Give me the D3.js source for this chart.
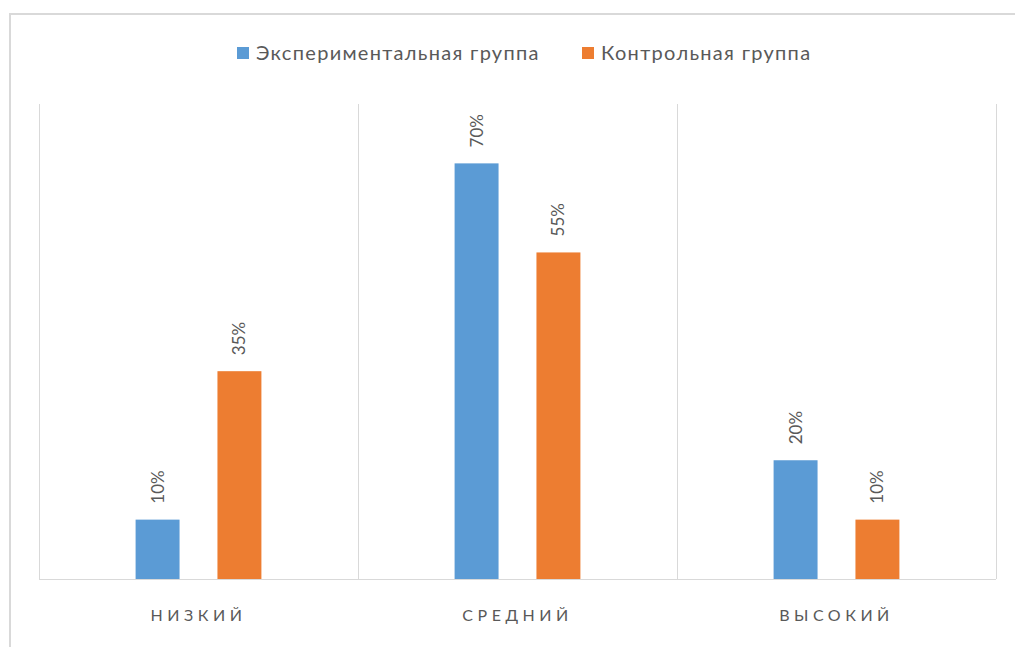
<!DOCTYPE html>
<html>
<head>
<meta charset="utf-8">
<script src="https://cdn.jsdelivr.net/npm/d3@7"></script>
<style>
  body { margin: 0; background: #fff; }
  svg { display: block; }
</style>
</head>
<body>
<svg id="chart" width="1015" height="647"></svg>
<script>
var categories = ['НИЗКИЙ', 'СРЕДНИЙ', 'ВЫСОКИЙ'];
var seriesNames = ['Экспериментальная группа', 'Контрольная группа'];
var expValues = [0.10, 0.70, 0.20];
var ctrlValues = [0.35, 0.55, 0.10];
var colors = ['#5b9bd5', '#ed7d31'];

function drawChart() {
    var svg = d3.select('#chart');
    var font = 'Lato, "Open Sans", sans-serif';
    var textGray = '#595959';

    // outer chart frame (cropped at right and bottom)
    svg.append('rect')
        .attr('x', 10)
        .attr('y', 14)
        .attr('width', 1030)
        .attr('height', 660)
        .attr('fill', 'none')
        .attr('stroke', '#d9d9d9')
        .attr('stroke-width', 2);

    var left = 39, right = 996, top = 104, bottom = 579;

    var x = d3.scaleBand()
        .domain(categories)
        .range([left, right])
        .paddingInner(0)
        .paddingOuter(0);

    var y = d3.scaleLinear()
        .domain([0, 0.8])
        .range([bottom, top]);

    var x1 = d3.scaleBand()
        .domain([0, 1])
        .range([0, x.bandwidth()])
        .paddingInner(0.463)
        .paddingOuter(1.18);

    // category separators
    var seps = [left].concat(categories.map(function (c) { return x(c) + x.bandwidth(); }));
    svg.selectAll('.sep')
        .data(seps)
        .enter().append('line')
        .attr('class', 'sep')
        .attr('x1', function (d) { return d + 0.5; })
        .attr('x2', function (d) { return d + 0.5; })
        .attr('y1', top)
        .attr('y2', bottom)
        .attr('stroke', '#d9d9d9')
        .attr('stroke-width', 1);

    // axis line
    svg.append('line')
        .attr('x1', left)
        .attr('x2', right)
        .attr('y1', bottom + 0.5)
        .attr('y2', bottom + 0.5)
        .attr('stroke', '#d9d9d9')
        .attr('stroke-width', 1);

    var series = [expValues, ctrlValues];
    for (var s = 0; s < series.length; s++) {
        var g = svg.append('g');
        g.selectAll('rect')
            .data(series[s])
            .enter().append('rect')
            .attr('x', function (d, i) { return x(categories[i]) + x1(s); })
            .attr('y', function (d) { return y(d); })
            .attr('width', x1.bandwidth())
            .attr('height', function (d) { return y(0) - y(d); })
            .attr('fill', colors[s]);

        g.selectAll('text')
            .data(series[s])
            .enter().append('text')
            .attr('transform', function (d, i) {
                var cx = x(categories[i]) + x1(s) + x1.bandwidth() / 2;
                return 'translate(' + (cx + 6) + ',' + (y(d) - 16) + ') rotate(-90)';
            })
            .attr('font-family', font)
            .attr('font-size', 17)
            .attr('fill', textGray)
            .text(function (d) { return Math.round(d * 100) + '%'; });
    }

    // category labels
    svg.selectAll('.cat')
        .data(categories)
        .enter().append('text')
        .attr('class', 'cat')
        .attr('x', function (d) { return x(d) + x.bandwidth() / 2; })
        .attr('y', 621)
        .attr('text-anchor', 'middle')
        .attr('font-family', font)
        .attr('font-size', 16)
        .attr('letter-spacing', 4.5)
        .attr('fill', textGray)
        .text(function (d) { return d; });

    // legend
    var legendX = [237, 582];
    for (var k = 0; k < seriesNames.length; k++) {
        svg.append('rect')
            .attr('x', legendX[k])
            .attr('y', 47)
            .attr('width', 12)
            .attr('height', 12)
            .attr('fill', colors[k]);
        svg.append('text')
            .attr('x', legendX[k] + 19)
            .attr('y', 60)
            .attr('font-family', font)
            .attr('font-size', 20)
            .attr('letter-spacing', 1.3)
            .attr('fill', textGray)
            .text(seriesNames[k]);
    }
}

drawChart();
</script>
</body>
</html>
